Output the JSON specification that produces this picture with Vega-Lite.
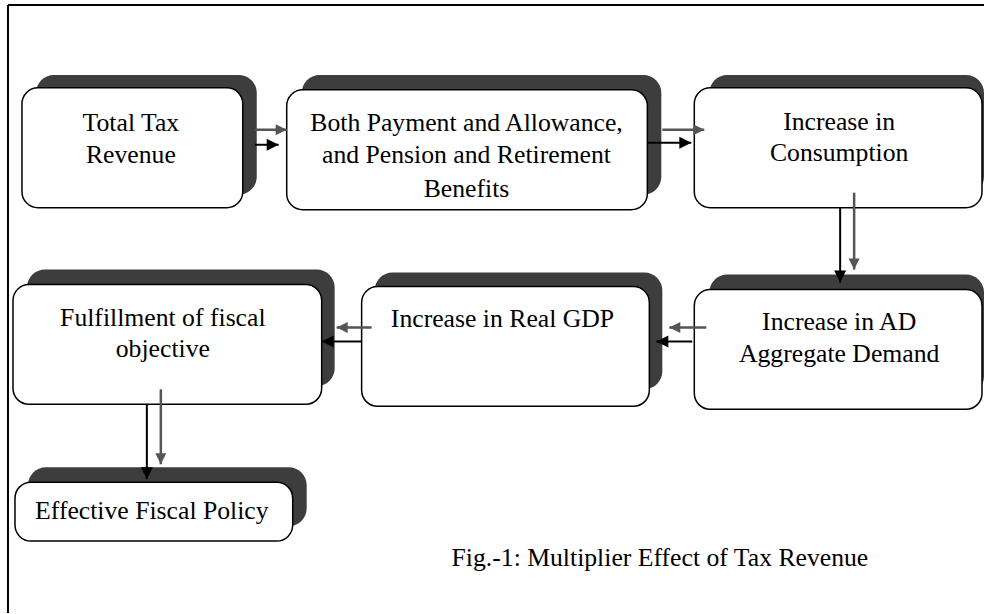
{
  "$schema": "https://vega.github.io/schema/vega-lite/v6.json",
  "autosize": {"type": "fit", "contains": "padding"},
  "width": 985,
  "height": 614,
  "padding": 0,
  "background": "white",
  "config": {"view": {"stroke": null}},
  "datasets": {
    "boxes": [
      {"id": "tax", "x": 22, "x2": 243, "y": 88, "y2": 208, "sx": 36, "sx2": 257, "sy": 75, "sy2": 195},
      {"id": "payment", "x": 287, "x2": 648, "y": 90, "y2": 210, "sx": 302, "sx2": 662, "sy": 75, "sy2": 195},
      {"id": "consumption", "x": 695, "x2": 983, "y": 88, "y2": 208, "sx": 710, "sx2": 985, "sy": 75, "sy2": 195},
      {"id": "ad", "x": 695, "x2": 983, "y": 290, "y2": 410, "sx": 710, "sx2": 985, "sy": 275, "sy2": 395},
      {"id": "gdp", "x": 362, "x2": 650, "y": 287, "y2": 407, "sx": 375, "sx2": 663, "sy": 273, "sy2": 390},
      {"id": "fulfil", "x": 13, "x2": 322, "y": 285, "y2": 405, "sx": 27, "sx2": 335, "sy": 270, "sy2": 387},
      {"id": "effective", "x": 15, "x2": 293, "y": 483, "y2": 542, "sx": 28, "sx2": 307, "sy": 468, "sy2": 527}
    ],
    "arrows": [
      {"kind": "gray", "dir": "right", "x": 255, "y": 130, "x2": 287, "y2": 130},
      {"kind": "black", "dir": "right", "x": 255, "y": 145, "x2": 279, "y2": 145},
      {"kind": "gray", "dir": "right", "x": 663, "y": 130, "x2": 705, "y2": 130},
      {"kind": "black", "dir": "right", "x": 648, "y": 143, "x2": 692, "y2": 143},
      {"kind": "black", "dir": "down", "x": 841, "y": 208, "x2": 841, "y2": 283},
      {"kind": "gray", "dir": "down", "x": 855, "y": 193, "x2": 855, "y2": 270},
      {"kind": "gray", "dir": "left", "x": 707, "y": 328, "x2": 670, "y2": 328},
      {"kind": "black", "dir": "left", "x": 693, "y": 342, "x2": 657, "y2": 342},
      {"kind": "gray", "dir": "left", "x": 372, "y": 328, "x2": 337, "y2": 328},
      {"kind": "black", "dir": "left", "x": 362, "y": 342, "x2": 322, "y2": 342},
      {"kind": "black", "dir": "down", "x": 147, "y": 405, "x2": 147, "y2": 480},
      {"kind": "gray", "dir": "down", "x": 161, "y": 390, "x2": 161, "y2": 465}
    ],
    "labels": [
      {"text": "Total Tax", "x": 131, "y": 131},
      {"text": "Revenue", "x": 131, "y": 163},
      {"text": "Both Payment and Allowance,", "x": 467, "y": 131},
      {"text": "and Pension and Retirement", "x": 467, "y": 163},
      {"text": "Benefits", "x": 467, "y": 197},
      {"text": "Increase in", "x": 840, "y": 130},
      {"text": "Consumption", "x": 840, "y": 161},
      {"text": "Increase in AD", "x": 840, "y": 331},
      {"text": "Aggregate Demand", "x": 840, "y": 363},
      {"text": "Increase in Real GDP", "x": 503, "y": 328},
      {"text": "Fulfillment of fiscal", "x": 163, "y": 327},
      {"text": "objective", "x": 163, "y": 358},
      {"text": "Effective Fiscal Policy", "x": 152, "y": 520}
    ],
    "caption": [
      {"text": "Fig.-1: Multiplier Effect of Tax Revenue", "x": 452, "y": 567}
    ],
    "frame": [
      {"x": 8, "y": 5, "x2": 985, "y2": 5},
      {"x": 8, "y": 5, "x2": 8, "y2": 614}
    ]
  },
  "layer": [
    {
      "data": {"name": "frame"},
      "mark": {"type": "rule", "color": "#000000", "strokeWidth": 2},
      "encoding": {
        "x": {"field": "x", "type": "quantitative", "scale": {"domain": [0, 985], "nice": false, "zero": false}, "axis": null},
        "x2": {"field": "x2"},
        "y": {"field": "y", "type": "quantitative", "scale": {"domain": [0, 614], "nice": false, "zero": false, "reverse": true}, "axis": null},
        "y2": {"field": "y2"}
      }
    },
    {
      "data": {"name": "boxes"},
      "mark": {"type": "rect", "fill": "#3d3d3d", "cornerRadius": 18},
      "encoding": {
        "x": {"field": "sx", "type": "quantitative"},
        "x2": {"field": "sx2"},
        "y": {"field": "sy", "type": "quantitative"},
        "y2": {"field": "sy2"}
      }
    },
    {
      "data": {"name": "boxes"},
      "mark": {"type": "rect", "fill": "#ffffff", "stroke": "#000000", "strokeWidth": 1.5, "cornerRadius": 16},
      "encoding": {
        "x": {"field": "x", "type": "quantitative"},
        "x2": {"field": "x2"},
        "y": {"field": "y", "type": "quantitative"},
        "y2": {"field": "y2"}
      }
    },
    {
      "data": {"name": "arrows"},
      "mark": {"type": "rule"},
      "encoding": {
        "x": {"field": "x", "type": "quantitative"},
        "x2": {"field": "x2"},
        "y": {"field": "y", "type": "quantitative"},
        "y2": {"field": "y2"},
        "color": {"field": "kind", "type": "nominal", "scale": {"domain": ["black", "gray"], "range": ["#000000", "#555555"]}, "legend": null},
        "strokeWidth": {"field": "kind", "type": "nominal", "scale": {"domain": ["black", "gray"], "range": [2, 2.5]}, "legend": null}
      }
    },
    {
      "data": {"name": "arrows"},
      "mark": {"type": "point", "filled": true, "opacity": 1, "strokeWidth": 0},
      "encoding": {
        "x": {"field": "x2", "type": "quantitative"},
        "y": {"field": "y2", "type": "quantitative"},
        "shape": {"field": "dir", "type": "nominal", "scale": {"domain": ["right", "left", "down"], "range": ["M0,0L-2,-1L-2,1Z", "M0,0L2,-1L2,1Z", "M0,0L-1,-2L1,-2Z"]}, "legend": null},
        "color": {"field": "kind", "type": "nominal", "scale": {"domain": ["black", "gray"], "range": ["#000000", "#555555"]}, "legend": null},
        "size": {"field": "kind", "type": "nominal", "scale": {"domain": ["black", "gray"], "range": [144, 121]}, "legend": null}
      }
    },
    {
      "data": {"name": "labels"},
      "mark": {"type": "text", "font": "Times New Roman, Liberation Serif, serif", "fontSize": 25.7, "align": "center", "baseline": "alphabetic", "color": "#000000"},
      "encoding": {
        "x": {"field": "x", "type": "quantitative"},
        "y": {"field": "y", "type": "quantitative"},
        "text": {"field": "text"}
      }
    },
    {
      "data": {"name": "caption"},
      "mark": {"type": "text", "font": "Times New Roman, Liberation Serif, serif", "fontSize": 25.7, "align": "left", "baseline": "alphabetic", "color": "#000000"},
      "encoding": {
        "x": {"field": "x", "type": "quantitative"},
        "y": {"field": "y", "type": "quantitative"},
        "text": {"field": "text"}
      }
    }
  ],
  "resolve": {"scale": {"color": "shared"}}
}
